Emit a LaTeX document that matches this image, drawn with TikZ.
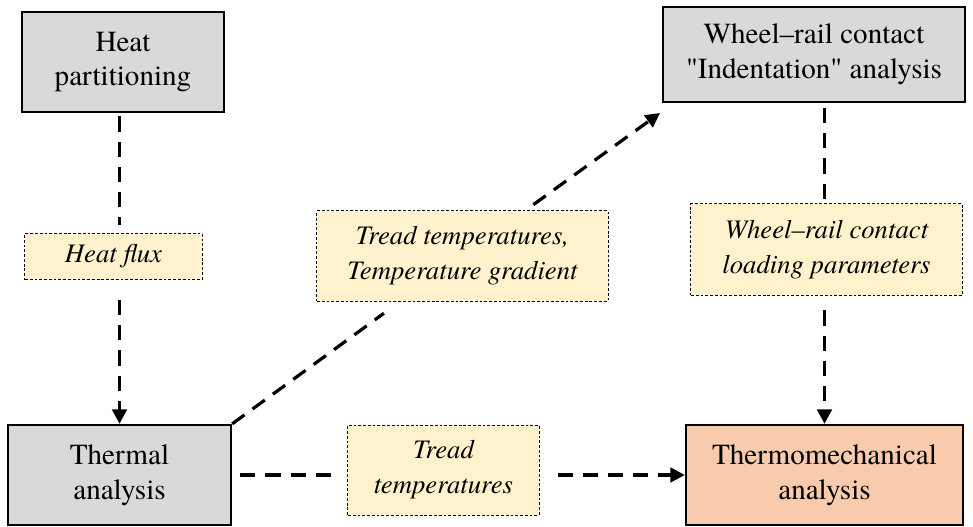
\documentclass[tikz,border=0pt]{standalone}
\usepackage{fontspec}
\setmainfont{TeX Gyre Termes}
\newfontfamily\rawquote{TeX Gyre Termes}[Ligatures=TeXOff]
\usetikzlibrary{arrows.meta}
\definecolor{boxgray}{HTML}{D9D9D9}
\definecolor{note}{HTML}{FFF2CC}
\definecolor{peach}{HTML}{F8CBAD}

\begin{document}
\begin{tikzpicture}[
  x=0.025cm, y=-0.025cm,
  >={Triangle[length=3.6mm,width=3.6mm]},
  box/.style={draw, line width=1.6pt, fill=boxgray, align=center, inner sep=0pt,
              font=\fontsize{20.7}{24.8}\selectfont},
  lbl/.style={draw, line width=0.7pt, dash pattern=on 2pt off 1.4pt, fill=note,
              align=center, inner sep=0pt, font=\fontsize{19}{24.8}\selectfont\itshape},
  flow/.style={line width=2.3pt, dash pattern=on 3.8mm off 2.5mm},
]
\useasboundingbox (0,0) rectangle (973,526);

% ===== analysis blocks =====
\node[box, minimum width=5.05cm,  minimum height=2.5cm]   (hp)      at (123,62)    {Heat\\partitioning};
\node[box, minimum width=7.55cm,  minimum height=2.375cm] (wr)      at (814,54.5)  {Wheel--rail contact\\{\rawquote"}Indentation{\rawquote"} analysis};
\node[box, minimum width=5.575cm, minimum height=2.5cm]   (thermal) at (119.5,475) {Thermal\\analysis};
\node[box, fill=peach, minimum width=6.925cm, minimum height=2.5cm] (tm) at (824.5,475) {Thermomechanical\\analysis};

% ===== transferred quantities =====
\node[lbl, minimum width=4.425cm, minimum height=1.15cm]  (hf)  at (113.5,256.5) {Heat flux};
\node[lbl, minimum width=7.275cm, minimum height=2.25cm]  (ttg) at (462.5,256)   {Tread temperatures,\\Temperature gradient};
\node[lbl, minimum width=4.775cm, minimum height=2.25cm]  (tt)  at (443.5,470)   {Tread\\temperatures};
\node[lbl, minimum width=6.775cm, minimum height=2.275cm] (wrl) at (826.5,249.5) {Wheel--rail contact\\loading parameters};
\coordinate (wrtip) at (660,113);

% ===== data flow =====
\draw[flow, shorten <=0.08cm, shorten >=0.2cm] (hp.south -| thermal.north) -- (hf.north -| thermal.north);
\draw[flow, ->, shorten <=0.5cm] (hf.south -| thermal.north) -- (thermal.north);

\draw[flow, shorten >=0.5cm] (thermal.north east) -- (ttg);
\draw[flow, ->, shorten <=0.25cm] (ttg) -- (wrtip);

\draw[flow, shorten <=0.2cm, shorten >=0.2cm] (thermal.east) -- (tt.west |- thermal.east);
\draw[flow, ->, shorten <=0.45cm] (tt.east |- tm.west) -- (tm.west);

\draw[flow, shorten <=0.12cm, shorten >=0.05cm] (wr.south -| tm.north) -- (wrl.north -| tm.north);
\draw[flow, ->, shorten <=0.37cm] (wrl.south -| tm.north) -- (tm.north);
\end{tikzpicture}
\end{document}
